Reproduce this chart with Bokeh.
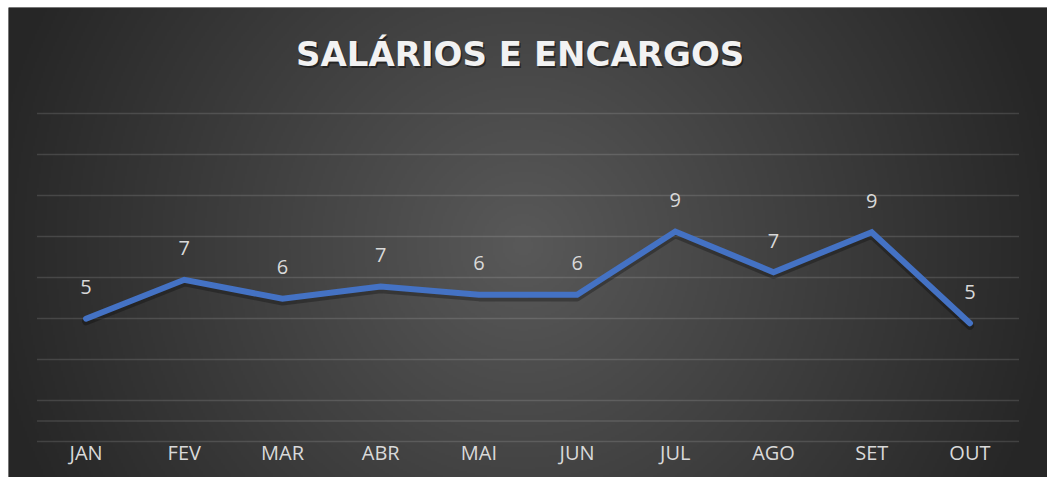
import numpy as np
from bokeh.plotting import figure
from bokeh.models import FactorRange, Range1d, Label
from bokeh.core.properties import value
from bokeh.embed import file_html
from bokeh.resources import INLINE

# ---- data ----
months = ["JAN", "FEV", "MAR", "ABR", "MAI", "JUN", "JUL", "AGO", "SET", "OUT"]
salarios = [4.99, 6.89, 5.96, 6.56, 6.16, 6.16, 9.24, 7.26, 9.21, 4.77]
grid_values = [-1, 0, 1, 3, 5, 7, 9, 11, 13, 15]
title_text = "SALÁRIOS E ENCARGOS"
data_labels = [str(int(round(v))) for v in salarios]

# ---- layout ----
W, H = 1047, 477
ML, MT = 8, 7
FW, FH = W - ML, H - MT
Y0, Y1 = -2.756, 20.17
PAD = 0.29
n = len(months)

p = figure(
    width=W, height=H,
    x_range=FactorRange(*months, range_padding=PAD, range_padding_units="absolute"),
    y_range=Range1d(Y0, Y1),
    output_backend="svg", toolbar_location=None, tools="",
    min_border=0, min_border_left=ML, min_border_top=MT,
)
p.xaxis.visible = False
p.yaxis.visible = False
p.xgrid.visible = False
p.ygrid.visible = False
p.title.visible = False
p.outline_line_color = None
p.background_fill_color = "#262626"
p.border_fill_color = "white"

# radial gradient background
step = 2
nx, ny = (FW + step - 1) // step, (FH + step - 1) // step
xs = (np.arange(nx) + 0.5) * step
ys = FH - (np.arange(ny) + 0.5) * step
X, Y = np.meshgrid(xs, ys)
cx, cy = 515, 238
d = np.hypot(X - cx, Y - cy)
g = np.clip(89 - 0.094 * d, 38, 89).astype(np.uint8)
img = np.empty((ny, nx), dtype=np.uint32)
view = img.view(dtype=np.uint8).reshape((ny, nx, 4))
view[..., 0] = g
view[..., 1] = g
view[..., 2] = g
view[..., 3] = 255
p.image_rgba(image=[img], x=-PAD, y=Y0, dw=n + 2 * PAD, dh=(Y1 - Y0))

# grid lines
p.segment(x0=[0] * len(grid_values), x1=[n] * len(grid_values),
          y0=grid_values, y1=grid_values,
          line_color="white", line_alpha=0.13, line_width=1.4)

# line shadow
p.line(x=months, y=[v - 0.13 for v in salarios], line_color="black",
       line_alpha=0.28, line_width=8, line_cap="round", line_join="round")
# main line
p.line(x=months, y=salarios, line_color="#4472C4", line_width=6,
       line_cap="round", line_join="miter")

# data labels
p.text(x=months, y=[v + 1.54 for v in salarios], text=data_labels,
       text_font=value("Open Sans"), text_font_size="20px",
       text_color="#d9d9d9", text_align="center", text_baseline="middle")

# category labels
p.text(x=months, y=[-1.55] * n, text=months,
       text_font=value("Open Sans"), text_font_size="20px",
       text_color="#d9d9d9", text_align="center", text_baseline="middle")

# title with shadow
for color, alpha, dx, dy in [("black", 0.45, 1.5, -2), ("#f2f2f2", 1.0, 0, 0)]:
    p.add_layout(Label(x=4.92, y=17.92, text=title_text, text_align="center",
                       text_baseline="middle", text_font="DejaVu Sans",
                       text_font_style="bold", text_font_size="34px",
                       text_color=color, text_alpha=alpha,
                       x_offset=dx, y_offset=dy))

open("out.html", "w").write(file_html(p, INLINE))
